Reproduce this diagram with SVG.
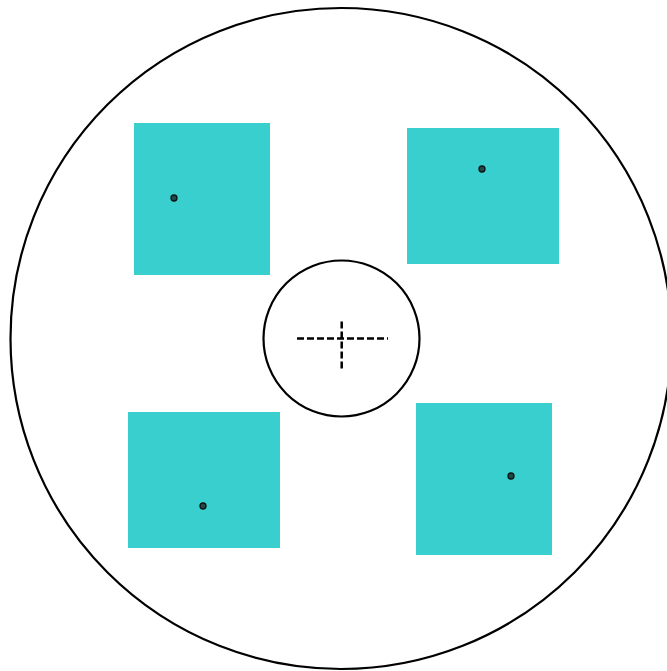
<svg xmlns="http://www.w3.org/2000/svg" width="667" height="671" viewBox="0 0 667 671">
<style>
.sq{fill:#3ACFCF;stroke:none}
.dot{fill:#1f4a4a;stroke:#111;stroke-width:1.3}
.ring{fill:none;stroke:#000;stroke-width:2.2}
.dash{stroke:#000;stroke-width:2.5;stroke-dasharray:7 3;fill:none}
</style>
<rect width="667" height="671" fill="#fff"/>
<g id="outer"><circle class="ring" cx="341" cy="338.5" r="330.5"/></g>
<g id="square-tl"><rect class="sq" x="134" y="123" width="136" height="152"/><circle class="dot" cx="174" cy="198" r="3"/></g>
<g id="square-tr"><rect class="sq" x="407" y="128" width="152" height="136"/><circle class="dot" cx="482" cy="169" r="3"/></g>
<g id="square-bl"><rect class="sq" x="128" y="412" width="152" height="136"/><circle class="dot" cx="203" cy="506" r="3"/></g>
<g id="square-br"><rect class="sq" x="416" y="403" width="136" height="152"/><circle class="dot" cx="511" cy="476" r="3"/></g>
<g id="hub"><circle class="ring" cx="341.5" cy="338.5" r="78"/>
<line class="dash" x1="297" y1="338.5" x2="388" y2="338.5"/>
<line class="dash" x1="341.7" y1="321.5" x2="341.7" y2="370"/></g>
</svg>
